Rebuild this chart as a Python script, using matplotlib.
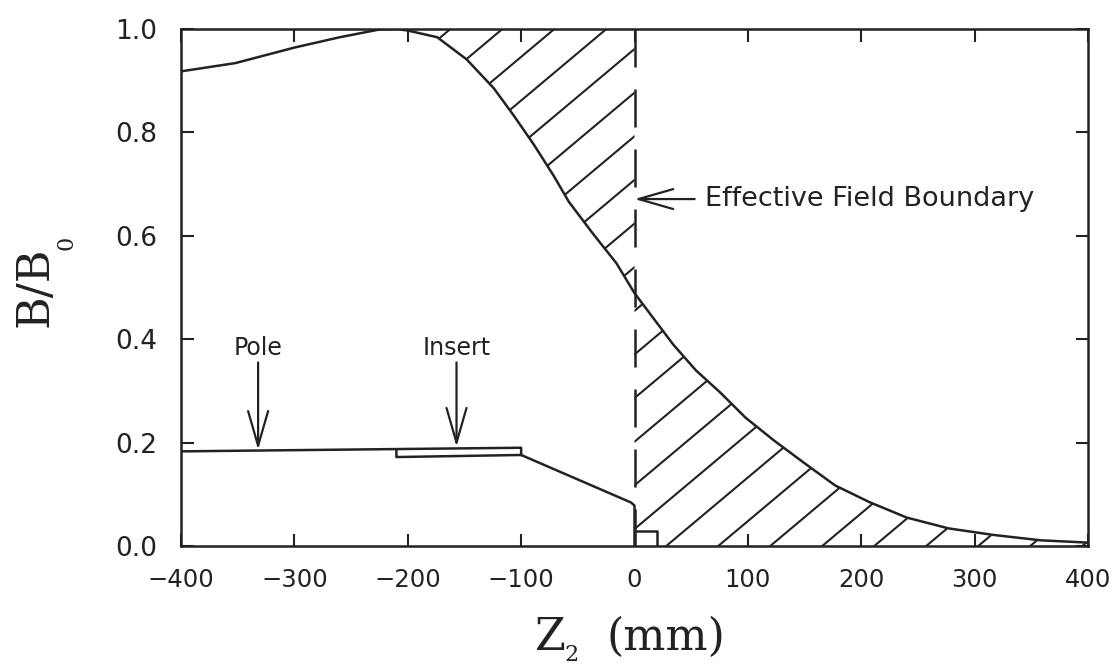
import numpy as np
import matplotlib
matplotlib.use("Agg")
import matplotlib.pyplot as plt
from matplotlib.collections import LineCollection
from matplotlib.transforms import IdentityTransform

ARQ_FIG = "out.png"

# perfil de campo ao longo de Z2 (mm), normalizado por B0
Z_CAMPO = [-400, -352, -300, -260, -225, -210, -200, -174, -148, -124, -107,
           -89, -71, -58, -37, -16, 0, 34, 54, 76, 98, 123, 150, 177, 207,
           240, 277, 316, 358, 400]
B_CAMPO = [0.918, 0.934, 0.964, 0.984, 0.999, 1.0, 0.997, 0.984, 0.941, 0.885,
           0.834, 0.777, 0.715, 0.666, 0.605, 0.547, 0.489, 0.39, 0.34, 0.296,
           0.248, 0.204, 0.160, 0.117, 0.085, 0.055, 0.034, 0.0215, 0.011,
           0.0065]

# contorno do polo e do inserto
Z_POLO = [-400, -100, -100, -3, 0, 0]
B_POLO = [0.183, 0.190, 0.176, 0.084, 0.078, 0.0]
Z_INSERTO = [-210, -210, -100]
B_INSERTO = [0.186, 0.172, 0.176]
Z_BLOCO = [0, 20, 20]
B_BLOCO = [0.029, 0.029, 0.0]

Z_FRONTEIRA = 0.0
Z_HACH_INICIO = -210

X_TICKS = [-400, -300, -200, -100, 0, 100, 200, 300, 400]
Y_TICKS = [0.0, 0.2, 0.4, 0.6, 0.8, 1.0]

SETAS = [
    ("Pole", -332, 0.355, 0.186),
    ("Insert", -157, 0.355, 0.192),
]
TXT_FRONTEIRA = "Effective Field Boundary"
B_FRONTEIRA = 0.671

COR = "#222222"
LW = 1.8
SERIFA = "DejaVu Serif"


def hachurar(ax, regiao, passo_px=52, angulo=40.0, ref=(28, 0.0)):
    # linhas diagonais espaçadas em pixels, recortadas pela região
    trans = ax.transData
    inv = trans.inverted()
    p0 = trans.transform(ref)
    a = np.deg2rad(angulo)
    d = np.array([np.cos(a), np.sin(a)]) * 3000
    segs = []
    for k in range(-40, 41):
        p = p0 + np.array([k * passo_px, 0.0])
        segs.append(inv.transform([p - d, p + d]))
    lc = LineCollection(segs, colors=COR, linewidths=1.5)
    lc.set_clip_path(regiao.get_paths()[0], trans)
    ax.add_collection(lc)


def rotulos_eixos(fig):
    # rótulos com subscrito bem rebaixado, montados peça por peça (px)
    rend = fig.canvas.get_renderer()
    ident = IdentityTransform()
    kw = dict(family=SERIFA, color=COR, transform=ident)

    # eixo x: Z_2 (mm)
    tz = fig.text(535, 19, "Z", fontsize=32, ha="left", va="baseline", **kw)
    ez = tz.get_window_extent(rend)
    fig.text(ez.x1 - 1, 8, "2", fontsize=16, ha="left", va="baseline", **kw)
    fig.text(606, 19, "(mm)", fontsize=32, ha="left", va="baseline", **kw)

    # eixo y: B/B_0
    tb = fig.text(48, 669 - 327, "B/B", fontsize=32, rotation=90,
                  rotation_mode="anchor", ha="left", va="baseline", **kw)
    eb = tb.get_window_extent(rend)
    fig.text(72, eb.y1 - 4, "0", fontsize=16, rotation=90,
             rotation_mode="anchor", ha="left", va="baseline", **kw)


def main():
    plt.rcParams["lines.scale_dashes"] = False

    fig = plt.figure(figsize=(11.18, 6.69), dpi=100)
    ax = fig.add_axes([0.1619, 0.1839, 0.8113, 0.7728])
    ax.set_xlim(-400, 400)
    ax.set_ylim(0, 1.0)

    z = np.array(Z_CAMPO, dtype=float)
    b = np.array(B_CAMPO, dtype=float)

    ax.plot(z, b, color=COR, lw=LW, solid_joinstyle="round")
    ax.plot(Z_POLO, B_POLO, color=COR, lw=LW)
    ax.plot(Z_INSERTO, B_INSERTO, color=COR, lw=LW)
    ax.plot(Z_BLOCO, B_BLOCO, color=COR, lw=LW)

    # fronteira efetiva do campo (tracejada)
    ax.plot([Z_FRONTEIRA, Z_FRONTEIRA], [1.0, 0.0], color=COR, lw=1.8,
            dashes=(27.4, 15.8))

    # regiões hachuradas
    m_inf = z >= Z_FRONTEIRA
    reg_inf = ax.fill_between(z[m_inf], 0, b[m_inf], facecolor="none",
                              edgecolor="none")
    m_sup = (z >= Z_HACH_INICIO) & (z <= Z_FRONTEIRA)
    reg_sup = ax.fill_between(z[m_sup], b[m_sup], 1.0, facecolor="none",
                              edgecolor="none")
    hachurar(ax, reg_inf)
    hachurar(ax, reg_sup)

    seta = dict(arrowstyle="->,head_length=1.25,head_width=0.36",
                color=COR, lw=1.6, mutation_scale=20,
                shrinkA=0, shrinkB=0)
    for txt, zx, b_ini, b_fim in SETAS:
        ax.annotate("", xy=(zx, b_fim), xytext=(zx, b_ini), arrowprops=seta)
        ax.text(zx, 0.369, txt, ha="center", va="baseline",
                fontsize=17, color=COR)

    ax.annotate("", xy=(Z_FRONTEIRA, B_FRONTEIRA), xytext=(53, B_FRONTEIRA),
                arrowprops=seta)
    ax.text(62, B_FRONTEIRA, TXT_FRONTEIRA, ha="left", va="center",
            fontsize=19.5, color=COR)

    ax.set_xticks(X_TICKS)
    ax.set_xticklabels(["\u2212" + str(-v) if v < 0 else str(v) for v in X_TICKS])
    ax.set_yticks(Y_TICKS)
    ax.set_yticklabels([f"{v:.1f}" for v in Y_TICKS])
    ax.tick_params(direction="in", length=9, width=1.5, top=True, right=True,
                   colors=COR)
    ax.tick_params(axis="x", pad=16, labelsize=17.5)
    ax.tick_params(axis="y", pad=17, labelsize=19)
    for s in ax.spines.values():
        s.set_linewidth(1.8)
        s.set_color(COR)

    rotulos_eixos(fig)

    fig.savefig(ARQ_FIG, dpi=100)
    plt.close(fig)


if __name__ == "__main__":
    main()
